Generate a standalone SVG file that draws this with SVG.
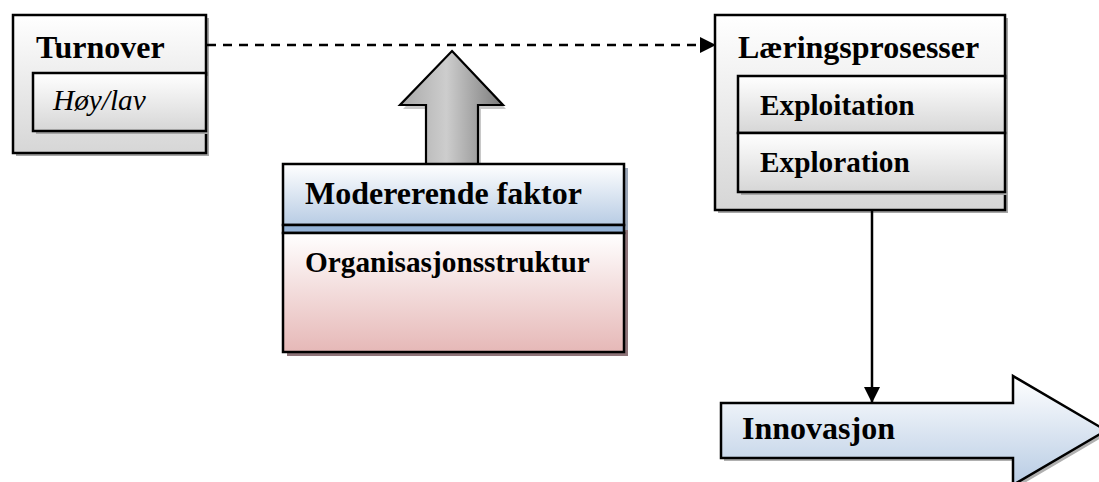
<svg xmlns="http://www.w3.org/2000/svg" width="1099" height="482" viewBox="0 0 1099 482">
<style>
.bx{stroke:#000;stroke-width:2.5}
.sh{fill:#a6a6a6}
.hd{font-family:"Liberation Serif","Times New Roman",serif;font-weight:bold;font-size:32px;fill:#000}
.sub{font-family:"Liberation Serif","Times New Roman",serif;font-weight:bold;font-size:29.3px;fill:#000}
.it{font-family:"Liberation Serif","Times New Roman",serif;font-style:italic;font-size:29.3px;fill:#000}
.cn{stroke:#000;stroke-width:2.5;fill:none}
</style>
<defs>
<linearGradient id="gGray" x1="0" y1="0" x2="0" y2="1"><stop offset="0" stop-color="#ffffff"/><stop offset="1" stop-color="#d6d6d6"/></linearGradient>
<linearGradient id="gBlue" x1="0" y1="0" x2="0" y2="1"><stop offset="0" stop-color="#ffffff"/><stop offset="1" stop-color="#b8cce4"/></linearGradient>
<linearGradient id="gPink" x1="0" y1="0" x2="0" y2="1"><stop offset="0" stop-color="#ffffff"/><stop offset="1" stop-color="#e6b8b7"/></linearGradient>
<linearGradient id="gArrow" x1="0" y1="0" x2="1" y2="0"><stop offset="0" stop-color="#a8a8a8"/><stop offset="0.45" stop-color="#cdcdcd"/><stop offset="1" stop-color="#7a7a7a"/></linearGradient>
<marker id="ah" viewBox="0 0 16 16" refX="15" refY="8" markerWidth="16" markerHeight="16" markerUnits="userSpaceOnUse" orient="auto"><path d="M0,0 L16,8 L0,16 Z" fill="#000"/></marker>
</defs>

<g id="turnover">
<rect class="sh" x="16" y="18" width="193" height="138"/>
<rect class="bx" x="13" y="15" width="193" height="138" fill="url(#gGray)"/>
<rect class="sh" x="36" y="76" width="173" height="58"/>
<rect class="bx" x="33" y="73" width="173" height="58" fill="url(#gGray)"/>
<text class="hd" x="36" y="58">Turnover</text>
<text class="it" x="53" y="110">Høy/lav</text>
</g>

<g id="laering">
<rect class="sh" x="718" y="18" width="290" height="195"/>
<rect class="bx" x="715" y="15" width="290" height="195" fill="url(#gGray)"/>
<rect class="sh" x="741" y="79" width="267" height="116"/>
<rect class="bx" x="738" y="76" width="267" height="57" fill="url(#gGray)"/>
<rect class="bx" x="738" y="133" width="267" height="59" fill="url(#gGray)"/>
<text class="hd" x="738" y="58">Læringsprosesser</text>
<text class="sub" x="760" y="115">Exploitation</text>
<text class="sub" x="760" y="172">Exploration</text>
</g>

<g id="uparrow">
<polygon points="455,55 506,109 481,109 481,168 429,168 429,109 403,109" fill="#c8c8c8"/>
<polygon points="452,51 503,105 478,105 478,164 426,164 426,105 400,105" fill="url(#gArrow)" stroke="#000" stroke-width="2.2"/>
</g>

<g id="moderende">
<rect x="287" y="168" width="341" height="62" fill="#9aa6b8"/>
<rect x="287" y="230" width="341" height="126" fill="#8e7479"/>
<rect class="bx" x="283" y="164" width="341" height="61" fill="url(#gBlue)"/>
<rect class="bx" x="283" y="225" width="341" height="8" fill="#95b3d7"/>
<rect class="bx" x="283" y="233" width="341" height="119" fill="url(#gPink)"/>
<text class="hd" x="305" y="204">Modererende faktor</text>
<text class="sub" x="305" y="272">Organisasjonsstruktur</text>
</g>

<g id="innovasjon">
<polygon points="724,406 1016,406 1016,379 1109,433.5 1016,488 1016,461 724,461" fill="#b0b0b0"/>
<polygon points="721,403 1013,403 1013,376 1106,430.5 1013,485 1013,458 721,458" fill="url(#gBlue)" stroke="#000" stroke-width="2.5"/>
<text class="hd" x="742" y="439">Innovasjon</text>
</g>

<g id="connectors">
<line class="cn" x1="207" y1="45" x2="715" y2="45" stroke-dasharray="9 7" marker-end="url(#ah)"/>
<line class="cn" x1="872" y1="211" x2="872" y2="402" marker-end="url(#ah)"/>
</g>
</svg>
